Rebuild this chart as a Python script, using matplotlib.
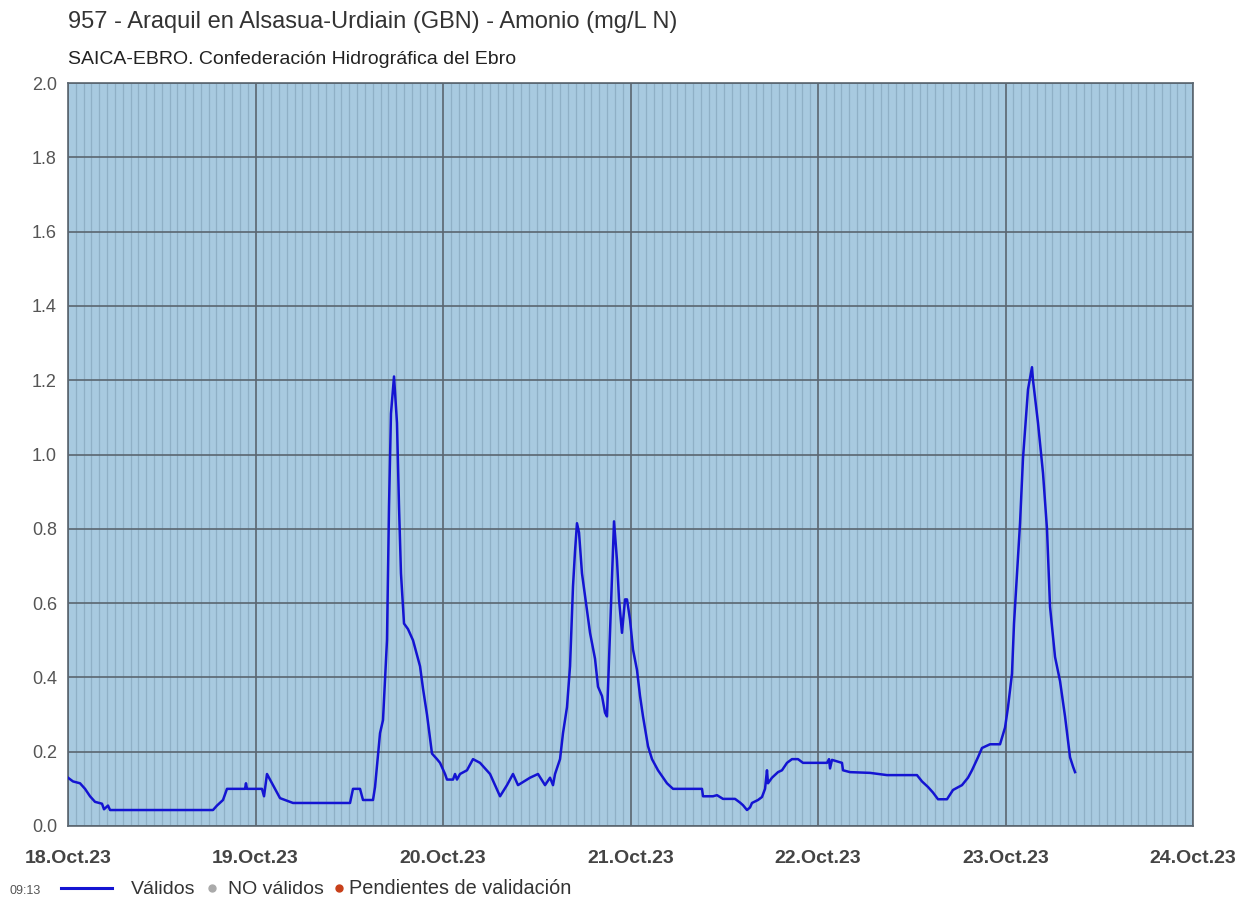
import numpy as np
import pandas as pd
import matplotlib
matplotlib.use("Agg")
import matplotlib.pyplot as plt
import matplotlib.dates as mdates
from matplotlib.lines import Line2D

# ── datos (horas desde 18.Oct.23 00:00 / Amonio mg/L N) ──────────────────────
START = pd.Timestamp("2023-10-18 00:00")

hours = [
    0.00, 0.64, 1.54, 2.18, 2.82, 3.46, 4.35, 4.61, 5.12, 5.38,
    18.56, 19.07, 19.84, 20.35, 21.12, 22.66, 22.78, 22.91, 24.83, 25.09,
    25.47, 26.11, 27.14, 28.80, 36.10, 36.48, 37.38, 37.76, 39.04, 39.30,
    39.94, 40.32, 40.83, 41.09, 41.34, 41.73, 42.11, 42.37, 42.62, 43.01,
    43.52, 44.16, 45.06, 45.44, 45.95, 46.59, 47.23, 47.62, 48.26, 48.51,
    49.28, 49.54, 49.79, 50.18, 51.07, 51.84, 52.74, 54.02, 55.30, 56.19,
    56.96, 57.60, 59.14, 60.16, 61.06, 61.70, 62.08, 62.34, 62.98, 63.36,
    63.87, 64.26, 64.64, 64.90, 65.15, 65.41, 65.79, 66.18, 66.82, 67.46,
    67.84, 68.35, 68.74, 68.99, 69.38, 69.76, 69.89, 70.27, 70.53, 70.91,
    71.30, 71.55, 71.94, 72.32, 72.83, 73.22, 73.60, 74.24, 74.75, 75.52,
    76.67, 77.44, 81.15, 81.28, 82.56, 83.07, 83.84, 85.38, 86.02, 86.40,
    86.91, 87.30, 87.55, 88.32, 88.83, 89.22, 89.47, 89.60, 90.11, 90.88,
    91.39, 92.03, 92.67, 93.44, 94.08, 97.15, 97.41, 97.54, 97.79, 99.07,
    99.20, 100.10, 102.66, 104.83, 108.67, 109.31, 110.08, 110.72, 111.36, 112.51,
    113.28, 114.43, 115.20, 115.71, 116.48, 116.99, 118.02, 119.30, 119.94, 120.32,
    120.83, 121.09, 121.47, 121.86, 122.24, 122.88, 123.39, 123.52, 124.16, 124.80,
    125.31, 125.70, 126.34, 126.98, 127.62, 128.26, 128.64, 128.90,
]

amonio = [
    0.130, 0.120, 0.115, 0.100, 0.080, 0.065, 0.060, 0.045, 0.055, 0.043,
    0.043, 0.055, 0.070, 0.100, 0.100, 0.100, 0.115, 0.100, 0.100, 0.080,
    0.140, 0.115, 0.075, 0.062, 0.062, 0.100, 0.100, 0.070, 0.070, 0.105,
    0.250, 0.285, 0.500, 0.860, 1.110, 1.210, 1.085, 0.860, 0.680, 0.545,
    0.530, 0.500, 0.430, 0.370, 0.300, 0.195, 0.180, 0.170, 0.140, 0.125,
    0.125, 0.140, 0.125, 0.140, 0.150, 0.180, 0.170, 0.140, 0.080, 0.110,
    0.140, 0.110, 0.130, 0.140, 0.110, 0.130, 0.110, 0.140, 0.180, 0.250,
    0.320, 0.430, 0.645, 0.740, 0.815, 0.790, 0.680, 0.620, 0.520, 0.450,
    0.375, 0.350, 0.305, 0.295, 0.520, 0.745, 0.820, 0.715, 0.610, 0.520,
    0.610, 0.610, 0.555, 0.475, 0.420, 0.350, 0.295, 0.215, 0.180, 0.150,
    0.115, 0.100, 0.100, 0.080, 0.080, 0.083, 0.073, 0.073, 0.063, 0.056,
    0.043, 0.050, 0.062, 0.070, 0.078, 0.100, 0.150, 0.115, 0.130, 0.145,
    0.150, 0.170, 0.180, 0.180, 0.170, 0.170, 0.180, 0.155, 0.178, 0.170,
    0.150, 0.145, 0.143, 0.137, 0.137, 0.120, 0.105, 0.090, 0.072, 0.072,
    0.097, 0.110, 0.130, 0.150, 0.185, 0.210, 0.220, 0.220, 0.265, 0.320,
    0.410, 0.545, 0.680, 0.815, 0.990, 1.175, 1.235, 1.200, 1.085, 0.950,
    0.800, 0.590, 0.455, 0.390, 0.295, 0.185, 0.160, 0.145,
]

TITLE = "957 - Araquil en Alsasua-Urdiain (GBN) - Amonio (mg/L N)"
SUBTITLE = "SAICA-EBRO. Confederación Hidrográfica del Ebro"
X_TICK_LABELS = ["18.Oct.23", "19.Oct.23", "20.Oct.23", "21.Oct.23",
                 "22.Oct.23", "23.Oct.23", "24.Oct.23"]
Y_TICKS = [0.0, 0.2, 0.4, 0.6, 0.8, 1.0, 1.2, 1.4, 1.6, 1.8, 2.0]
LAST_TIME = "09:13"
LEGEND_LABELS = ["Válidos", "NO válidos", "Pendientes de validación"]

fechas = START + pd.to_timedelta(np.array(hours), unit="h")
valores = np.array(amonio)

# ── estilo ───────────────────────────────────────────────────────────────────
BG_COLOR = "#A8CAE0"
MINOR_COLOR = "#8FB0C6"
MAJOR_COLOR = "#5A6670"
LINE_COLOR = "#1414D2"
TEXT_COLOR = "#444444"

plt.rcParams["font.family"] = ["Liberation Sans", "DejaVu Sans"]

W, H = 1254, 899
fig = plt.figure(figsize=(W / 100, H / 100), dpi=100)
ax = fig.add_axes([68 / W, 1 - 826 / H, (1193 - 68) / W, (826 - 83) / H])
ax.set_facecolor(BG_COLOR)

ax.plot(fechas, valores, color=LINE_COLOR, linewidth=1.8, zorder=5)

x0 = START
x1 = START + pd.Timedelta(days=6)
ax.set_xlim(x0, x1)
ax.set_ylim(0, 2.0)

ax.set_xticks(pd.date_range(x0, x1, freq="D"))
ax.set_xticklabels(X_TICK_LABELS, fontsize=14, fontweight="bold", color=TEXT_COLOR)
ax.xaxis.set_minor_locator(mdates.HourLocator())
ax.set_yticks(Y_TICKS)
ax.set_yticklabels([f"{v:.1f}" for v in Y_TICKS], fontsize=13, color="#555555")

ax.grid(which="minor", axis="x", color=MINOR_COLOR, linewidth=0.9)
ax.grid(which="major", axis="both", color=MAJOR_COLOR, linewidth=1.2)
ax.set_axisbelow(True)
ax.tick_params(which="both", length=0)
ax.tick_params(axis="y", pad=8)
ax.tick_params(axis="x", pad=17)
for sp in ax.spines.values():
    sp.set_color(MAJOR_COLOR)
    sp.set_linewidth(1.2)

fig.text(68 / W, 1 - 22 / H, TITLE, fontsize=17, color="#333333", va="center")
fig.text(68 / W, 1 - 59 / H, SUBTITLE, fontsize=14, color="#222222", va="center")

# ── leyenda ──────────────────────────────────────────────────────────────────
ly = 1 - 888 / H
lb = 1 - 894 / H   # línea base común de los textos
fig.text(9 / W, lb, LAST_TIME, fontsize=9, color="#555555", va="baseline")
fig.add_artist(Line2D([61 / W, 112 / W], [ly, ly], transform=fig.transFigure,
                      color=LINE_COLOR, linewidth=2.2))
fig.text(131 / W, lb, LEGEND_LABELS[0], fontsize=14, color="#333333", va="baseline")
fig.add_artist(Line2D([212 / W], [ly], transform=fig.transFigure, marker="o",
                      markersize=5, color="#AAAAAA", linestyle="none"))
fig.text(228 / W, lb, LEGEND_LABELS[1], fontsize=14, color="#333333", va="baseline")
fig.add_artist(Line2D([339 / W], [ly], transform=fig.transFigure, marker="o",
                      markersize=5, color="#C8401A", linestyle="none"))
fig.text(349 / W, lb, LEGEND_LABELS[2], fontsize=14.3, color="#333333", va="baseline")

fig.savefig("out.png", dpi=100, facecolor="white")
